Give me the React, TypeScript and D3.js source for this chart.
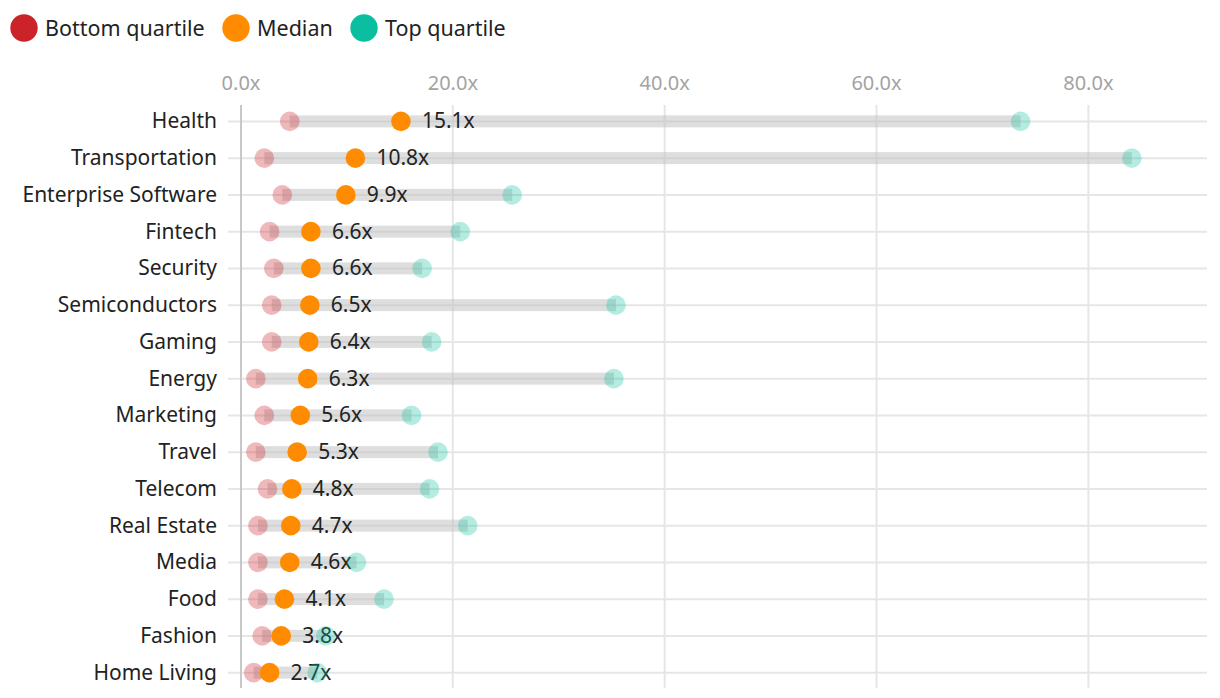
import React from "react";
import * as d3 from "d3";

const categories = [
  "Health", "Transportation", "Enterprise Software", "Fintech", "Security",
  "Semiconductors", "Gaming", "Energy", "Marketing", "Travel", "Telecom",
  "Real Estate", "Media", "Food", "Fashion", "Home Living",
];
const bottomQuartile = [4.6, 2.2, 3.9, 2.7, 3.1, 2.9, 2.9, 1.4, 2.2, 1.4, 2.5, 1.6, 1.6, 1.6, 2.0, 1.2];
const medianValues = [15.1, 10.8, 9.9, 6.6, 6.6, 6.5, 6.4, 6.3, 5.6, 5.3, 4.8, 4.7, 4.6, 4.1, 3.8, 2.7];
const topQuartile = [73.6, 84.1, 25.6, 20.7, 17.1, 35.4, 18.0, 35.2, 16.1, 18.6, 17.8, 21.4, 10.9, 13.5, 8.0, 7.2];
const xTicks = [0, 20, 40, 60, 80];
const legendItems = [
  { label: "Bottom quartile", color: "#cc2229" },
  { label: "Median", color: "#ff8c00" },
  { label: "Top quartile", color: "#0abfa0" },
];

const FONT = "'Noto Sans', 'Open Sans', sans-serif";

export default function App() {
  const W = 1220;
  const H = 698;
  const x = d3.scaleLinear().domain([0, 91.2]).range([241, 1207]);
  const y = d3.scaleBand<string>().domain(categories).range([103, 691]);
  const cy = (c: string) => (y(c) as number) + y.bandwidth() / 2;
  const plotTop = 105;
  const plotBottom = 688;
  const legendX = [24, 236, 364];

  return (
    <svg width={W} height={H} style={{ position: "absolute", left: 0, top: 0, background: "#fff" }} fontFamily={FONT}>
      {/* legend */}
      {legendItems.map((d, i) => (
        <g key={d.label} transform={`translate(${legendX[i]},28)`}>
          <circle r={13.7} fill={d.color} />
          <text x={21} y={7.5} fontSize={21.5} fill="#222">{d.label}</text>
        </g>
      ))}
      {/* x ticks + vertical grid */}
      {xTicks.map((t) => (
        <g key={t}>
          <text x={x(t)} y={90} textAnchor="middle" fontSize={20} fill="#a3a3a3">
            {d3.format(".1f")(t)}x
          </text>
          {t !== 0 && (
            <line x1={x(t)} x2={x(t)} y1={plotTop} y2={plotBottom} stroke="#e6e6e6" strokeWidth={2} />
          )}
        </g>
      ))}
      {/* horizontal grid */}
      {categories.map((c) => (
        <line key={c} x1={228} x2={1207} y1={cy(c)} y2={cy(c)} stroke="#e6e6e6" strokeWidth={2} />
      ))}
      <line x1={x(0)} x2={x(0)} y1={plotTop} y2={plotBottom} stroke="#c8c8c8" strokeWidth={2} />
      {/* category labels */}
      {categories.map((c) => (
        <text key={c} x={217} y={cy(c) + 7} textAnchor="end" fontSize={21} fill="#222">{c}</text>
      ))}
      {/* range bars */}
      {categories.map((c, i) => (
        <rect key={c} x={x(bottomQuartile[i])} y={cy(c) - 6} width={x(topQuartile[i]) - x(bottomQuartile[i])} height={12} fill="#bdbdbd" fillOpacity={0.5} />
      ))}
      {/* value labels */}
      {categories.map((c, i) => (
        <text key={c} x={x(medianValues[i]) + 21} y={cy(c) + 7} fontSize={21} fill="#222">
          {d3.format(".1f")(medianValues[i])}x
        </text>
      ))}
      {/* dots */}
      {categories.map((c, i) => (
        <circle key={"b" + c} cx={x(bottomQuartile[i])} cy={cy(c)} r={9.8} fill="#cc2229" fillOpacity={0.32} />
      ))}
      {categories.map((c, i) => (
        <circle key={"t" + c} cx={x(topQuartile[i])} cy={cy(c)} r={9.8} fill="#0abfa0" fillOpacity={0.3} />
      ))}
      {categories.map((c, i) => (
        <circle key={"m" + c} cx={x(medianValues[i])} cy={cy(c)} r={9.8} fill="#ff8c00" />
      ))}
    </svg>
  );
}
